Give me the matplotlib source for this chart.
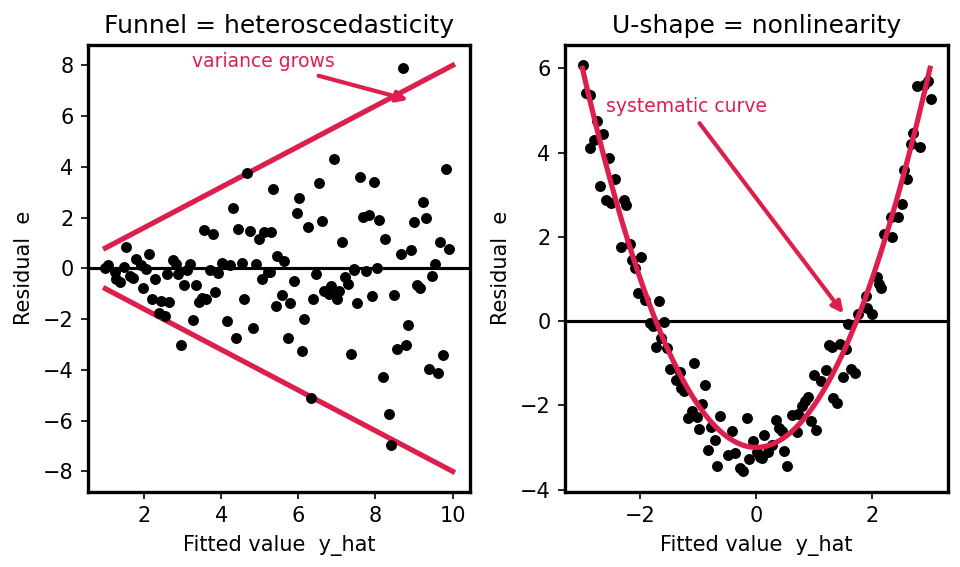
import matplotlib.pyplot as plt
import numpy as np

RED = '#dc1f4c'

# left panel: residuals vs fitted (funnel)
funnel_x = [1.07, 1.54, 1.47, 1.24, 1.28, 1.39, 1.65, 1.71, 1.79, 1.92, 2.05, 2.14,
            1.98, 2.21, 2.29, 2.44, 2.65, 2.39, 2.54, 2.59, 2.74, 2.82, 2.88, 2.95,
            3.03, 3.12, 3.18, 3.27, 3.34, 3.42, 3.50, 3.62, 3.70, 3.85, 3.93, 4.02,
            4.16, 4.23, 4.38, 4.53, 4.59, 4.83, 4.90, 5.07, 5.21, 5.45, 3.55, 3.78,
            4.32, 4.44, 4.68, 4.76, 4.98, 5.10, 5.30, 5.34, 8.72, 6.92, 6.03, 6.54,
            5.96, 6.24, 6.62, 7.13, 7.59, 7.95, 7.67, 7.82, 8.10, 8.25, 8.65, 8.93,
            9.00, 9.23, 9.32, 9.67, 9.90, 9.83, 5.64, 7.44, 8.03, 9.53, 5.26, 5.88,
            5.57, 5.41, 5.79, 6.15, 5.73, 6.10, 6.47, 6.39, 6.67, 6.79, 6.85, 7.01,
            7.05, 7.22, 7.29, 7.45, 7.52, 7.37, 7.75, 7.91, 6.32, 8.49, 8.19, 8.35,
            8.41, 8.57, 8.78, 8.85, 9.08, 9.15, 9.47, 9.39, 9.62, 9.75, 1.00]
funnel_e = [0.12, 0.85, 0.05, -0.15, -0.40, -0.55, -0.32, -0.37, 0.38, 0.12, -0.01, 0.58,
            -0.77, -1.21, -0.41, -1.27, -1.34, -1.74, -1.87, -0.24, 0.32, 0.19, -0.21, -3.00,
            -0.64, -0.05, 0.19, -2.04, -0.64, -1.34, -1.17, -1.21, -0.05, -0.92, -0.17, 0.21,
            -2.07, 0.12, -2.76, 0.23, -1.21, -2.36, 0.16, -0.41, -0.15, 0.48, 1.51, 1.35,
            2.38, 1.54, 3.77, 1.47, 1.14, 1.42, 1.42, 3.13, 7.90, 4.30, 2.78, 3.35,
            2.18, 1.62, 1.87, 1.02, 3.60, 3.41, 2.02, 2.11, 1.90, 1.14, 0.58, 0.74,
            1.83, 2.62, 1.98, 1.02, 0.78, 3.90, 0.29, -0.01, 0.03, 0.16, -0.15, -0.50,
            -1.04, -1.47, -1.35, -2.00, -2.76, -3.27, -0.24, -1.21, -0.88, -1.01, -0.68, -1.21,
            -0.88, -0.35, -0.61, -0.05, -1.37, -3.36, -0.11, -1.08, -5.10, -1.04, -4.30, -5.75,
            -6.95, -3.16, -3.00, -2.24, -0.65, -0.77, -0.32, -3.96, -4.13, -3.40, 0.02]

# funnel envelope lines
env_x = [1, 10]
env_upper = [0.8, 8]
env_lower = [-0.8, -8]

# right panel: U-shape
u_x = [-2.99, -2.93, -2.87, -2.75, -2.64, -2.80, -2.86, -2.54, -2.43, -2.70, -2.59, -2.50,
       -2.28, -2.25, -2.33, -2.18, -2.15, -1.98, -2.10, -2.04, -1.92, -1.67, -1.84, -1.78,
       -1.59, -1.65, -1.73, -1.54, -1.08, -1.49, -1.32, -1.39, -1.29, -1.24, -0.88, -0.93,
       -1.11, -1.17, -1.03, -0.98, -0.62, -0.78, -0.71, -0.83, -0.67, -0.42, -0.48, -0.36,
       -0.28, -0.22, -0.16, -0.12, -0.06, 0.01, 0.06, 0.13, 0.10, 0.21, 0.27, 0.48,
       0.54, 0.34, 0.39, 0.45, 0.70, 0.61, 0.73, 0.79, 0.85, 0.90, 0.94, 1.04,
       0.99, 1.11, 1.21, 1.33, 1.40, 1.50, 1.63, 1.71, 1.25, 1.30, 1.44, 1.55,
       1.59, 1.75, 1.92, 2.00, 1.90, 2.12, 2.16, 2.08, 2.20, 2.35, 2.33, 2.44,
       2.51, 2.55, 2.61, 2.71, 2.67, 2.82, 2.77, 2.96, 3.01, 2.90]
u_e = [6.07, 5.41, 5.36, 4.74, 4.44, 4.29, 4.11, 3.87, 3.37, 3.21, 2.87, 2.80,
       2.88, 2.76, 1.75, 1.83, 1.44, 1.52, 1.27, 0.67, 0.49, 0.48, -0.04, -0.12,
       -0.02, -0.41, -0.62, -0.63, -0.99, -1.15, -1.21, -1.39, -1.59, -1.67, -1.53, -1.98,
       -2.13, -2.30, -2.29, -2.56, -2.26, -2.52, -2.82, -3.06, -3.43, -2.62, -3.17, -3.13,
       -3.49, -3.57, -2.30, -3.27, -2.86, -3.10, -3.24, -2.70, -3.25, -3.10, -2.94, -3.08,
       -3.43, -2.34, -2.54, -2.62, -2.63, -2.22, -2.21, -2.02, -1.90, -1.80, -2.38, -2.58,
       -1.29, -1.43, -1.17, -1.83, -1.94, -1.33, -1.15, -1.23, -0.56, -0.62, -0.54, -0.66,
       -0.08, 0.16, 0.32, 0.17, 0.60, 0.87, 0.78, 1.05, 2.06, 2.00, 2.48, 2.46,
       2.78, 3.59, 3.36, 4.46, 4.21, 4.13, 5.57, 5.70, 5.28, 5.60]

# fitted quadratic e = a*x^2 + b*x + c
quad = [1.0, 0.0, -3.0]

fig = plt.figure(figsize=(6.4, 3.78), dpi=150)
ax1 = fig.add_axes([0.0917, 0.1328, 0.3979, 0.7878])
ax2 = fig.add_axes([0.5885, 0.1328, 0.399, 0.7878])

# funnel
ax1.scatter(funnel_x, funnel_e, s=18, color='black', zorder=3)
ax1.axhline(0, color='black', lw=1.5, zorder=2)
ax1.plot(env_x, env_upper, color=RED, lw=2.5)
ax1.plot(env_x, env_lower, color=RED, lw=2.5)
ax1.annotate('variance grows', xy=(8.95, 6.6), xytext=(5.1, 8.17),
             ha='center', va='center', color=RED, fontsize=9,
             arrowprops=dict(arrowstyle='-|>', color=RED, lw=2, mutation_scale=11))
ax1.set_title('Funnel = heteroscedasticity', fontsize=12)
ax1.set_xlabel('Fitted value  y_hat')
ax1.set_ylabel('Residual  e')

# U-shape
ax2.scatter(u_x, u_e, s=18, color='black', zorder=3)
ax2.axhline(0, color='black', lw=1.5, zorder=2)
xs = np.linspace(-3, 3, 200)
ax2.plot(xs, np.polyval(quad, xs), color=RED, lw=2.5, zorder=4)
ax2.annotate('systematic curve', xy=(1.55, 0.1), xytext=(-1.2, 5.1),
             ha='center', va='center', color=RED, fontsize=9,
             arrowprops=dict(arrowstyle='-|>', color=RED, lw=2, mutation_scale=11))
ax2.set_title('U-shape = nonlinearity', fontsize=12)
ax2.set_xlabel('Fitted value  y_hat')
ax2.set_ylabel('Residual  e')

for ax in (ax1, ax2):
    for sp in ax.spines.values():
        sp.set_linewidth(1.6)

fig.savefig('out.png', dpi=150)
